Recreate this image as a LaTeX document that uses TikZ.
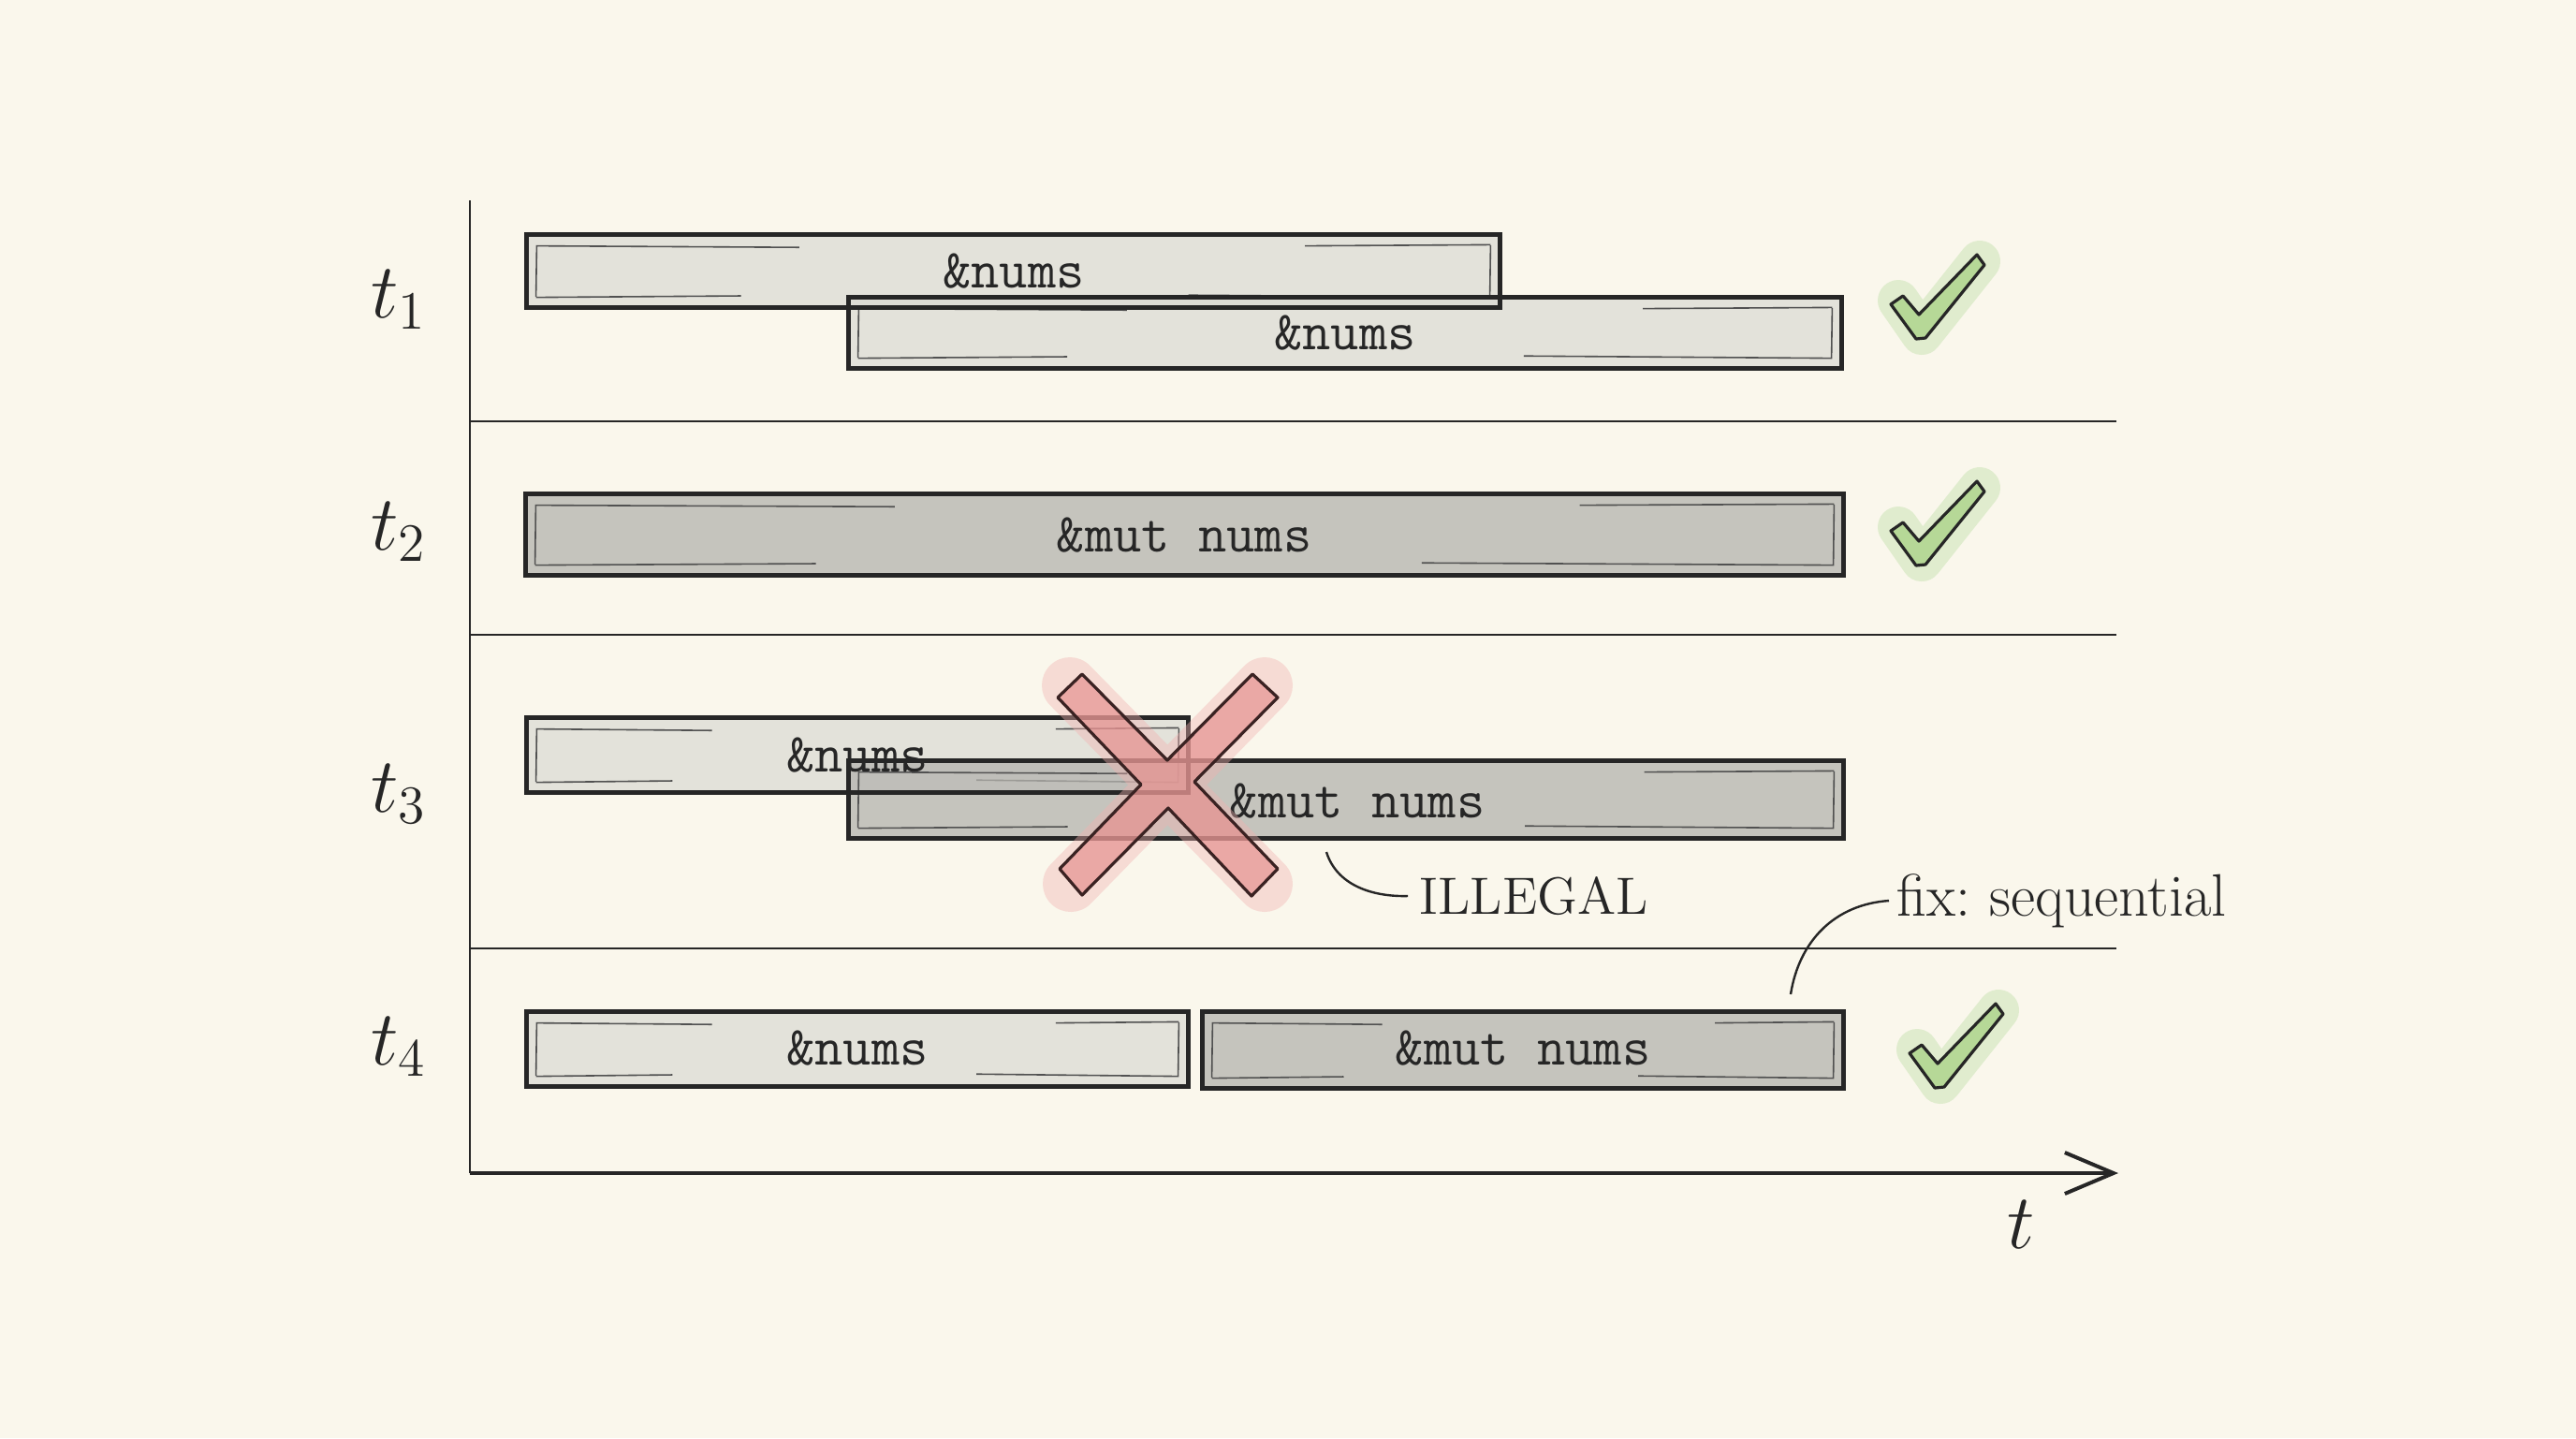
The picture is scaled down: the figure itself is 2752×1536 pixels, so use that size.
\documentclass[tikz,border=0pt]{standalone}
\usetikzlibrary{calc,arrows.meta}
\definecolor{bg}{HTML}{FAF7EC}
\definecolor{barlight}{HTML}{DCDBD4}
\definecolor{bardark}{HTML}{B4B3AE}
\definecolor{ink}{HTML}{262626}
\definecolor{chkfill}{HTML}{B6D897}
\definecolor{chkhalo}{HTML}{CFE6BA}
\definecolor{xfill}{HTML}{E48E8C}
\definecolor{xhalo}{HTML}{F2B2B0}
\definecolor{xline}{HTML}{3A2222}
\begin{document}
\begin{tikzpicture}[x=0.25pt,y=-0.25pt,
  barbase/.style={rectangle, inner sep=0pt, fill opacity=0.75,
    path picture={
      \draw[sketch] let \p1=(path picture bounding box.south west),
                        \p2=(path picture bounding box.north east) in
        (\x1+2.4pt,\y1+2.8pt) -- (\x1+2.6pt,\y2-2.8pt)
        (\x2-2.6pt,\y1+2.8pt) -- (\x2-2.4pt,\y2-2.8pt)
        (\x1+2.4pt,\y2-2.9pt) -- ({0.72*\x1+0.28*\x2},\y2-3.3pt)
        ({0.2*\x1+0.8*\x2},\y2-2.9pt) -- (\x2-2.4pt,\y2-2.6pt)
        (\x1+2.4pt,\y1+2.6pt) -- ({0.78*\x1+0.22*\x2},\y1+3.0pt)
        ({0.32*\x1+0.68*\x2},\y1+3.2pt) -- (\x2-2.4pt,\y1+2.6pt);
    }},
  lightbar/.style={barbase, fill=barlight},
  darkbar/.style={barbase, fill=bardark},
  sketch/.style={draw=ink!80, line width=0.4pt},
  outline/.style={draw=ink, line width=1.2pt},
  bartext/.style={font=\fontsize{14.7}{17}\selectfont\ttfamily, text=ink, inner sep=0pt},
  divider/.style={draw=ink, line width=0.5pt},
  yaxis/.style={draw=ink, line width=0.6pt},
  xaxis/.style={draw=ink, line width=1pt},
  rowlabel/.style={font=\fontsize{20}{24}\selectfont, text=ink},
  note/.style={font=\fontsize{14}{17}\selectfont, text=ink, inner sep=1pt},
  leader/.style={draw=ink, line width=0.6pt},
  pics/checkmark/.style={code={
    \draw[line width=11pt, draw=chkhalo, draw opacity=0.6, line cap=round, line join=round]
      (-42,4) -- (-17,40) -- (45,-38);
    \filldraw[fill=chkfill, draw=ink, line width=0.8pt, line join=round]
      (-50,8) -- (-37,-1) -- (-20,19) -- (42,-45) -- (50,-34) -- (-13,44) -- (-23,45) -- cycle;
  }}
]
\useasboundingbox (0,0) rectangle (2752,1536);
\fill[bg] (0,0) rectangle (2752,1536);

% axes and dividers
\coordinate (ytop) at (502,214);
\coordinate (origin) at (502,1253);
\coordinate (xend) at (2263,1253);
\coordinate (d1l) at (502,450);  \coordinate (d1r) at (2261,450);
\coordinate (d2l) at (502,678);  \coordinate (d2r) at (2261,678);
\coordinate (d3l) at (502,1013); \coordinate (d3r) at (2261,1013);
\draw[divider] (d1l) -- (d1r);
\draw[divider] (d2l) -- (d2r);
\draw[divider] (d3l) -- (d3r);
\draw[yaxis] (ytop) -- (origin);
\draw[xaxis, -{Straight Barb[length=13pt,width=11pt,line width=1pt]}] (origin) -- (xend);

% bar fills
\node[lightbar, minimum width=259.75pt, minimum height=19.25pt] (t1a) at (1082.5,289.5) {};
\node[lightbar, minimum width=265pt,    minimum height=18.75pt] (t1b) at (1437,355.5) {};
\node[darkbar,  minimum width=351.75pt, minimum height=21.5pt]  (t2a) at (1265.5,571) {};
\node[lightbar, minimum width=176.5pt,  minimum height=19.75pt] (t3a) at (916,806.5) {};
\node[darkbar,  minimum width=265.5pt,  minimum height=20.5pt]  (t3b) at (1438,854) {};
\node[lightbar, minimum width=176.5pt,  minimum height=19.75pt] (t4a) at (916,1120.5) {};
\node[darkbar,  minimum width=171pt,    minimum height=20.25pt] (t4b) at (1627,1121.5) {};

% bar outlines
\foreach \b in {t1a,t1b,t2a,t3a,t3b,t4a,t4b}
  \draw[outline] (\b.south west) rectangle (\b.north east);

% bar texts
\node[bartext] (t1a-txt) at (1083,290) {\&nums};
\node[bartext] (t1b-txt) at (1437,356) {\&nums};
\node[bartext] (t2a-txt) at (1265,572) {\&mut nums};
\node[bartext] (t3a-txt) at (916,807) {\&nums};
\node[bartext] (t3b-txt) at (1450,856) {\&mut nums};
\node[bartext] (t4a-txt) at (916,1120) {\&nums};
\node[bartext] (t4b-txt) at (1627,1120) {\&mut nums};

% row labels
\node[rowlabel] (lab1) at (426,320) {$t_1$};
\node[rowlabel] (lab2) at (426,568) {$t_2$};
\node[rowlabel] (lab3) at (426,848) {$t_3$};
\node[rowlabel] (lab4) at (426,1118) {$t_4$};
\node[rowlabel] (tlab) at (2159,1308) {$t$};

% red cross
\draw[line width=15pt, draw=xhalo, draw opacity=0.4, line cap=round]
  (1143,732) -- (1351,944) (1351,732) -- (1144,944);
\filldraw[fill=xfill, fill opacity=0.65, draw=xline, line width=0.8pt, line join=round]
  (1156,720) -- (1247,812) -- (1338,720) -- (1365,745) -- (1276,835) -- (1365,928)
  -- (1337,957) -- (1248,863) -- (1156,956) -- (1132,928) -- (1219,838) -- (1130,745) -- cycle;

% notes
\node[note, anchor=west] (illegal) at (1512,957) {ILLEGAL};
\coordinate (illA) at (1417,910);
\draw[leader] (illA) .. controls (1428,945) and (1465,958) .. ([xshift=-2pt]illegal.west);
\node[note, anchor=west, font=\fontsize{16}{19}\selectfont] (fix) at (2022,962) {fix:\ sequential};
\coordinate (fixA) at (1913,1062);
\draw[leader] (fixA) .. controls (1922,1005) and (1960,966) .. ([xshift=-1pt]fix.west);

% checks
\pic (chk1) at (2070,317) {checkmark};
\pic (chk2) at (2070,559) {checkmark};
\pic (chk4) at (2090,1117) {checkmark};
\end{tikzpicture}
\end{document}
